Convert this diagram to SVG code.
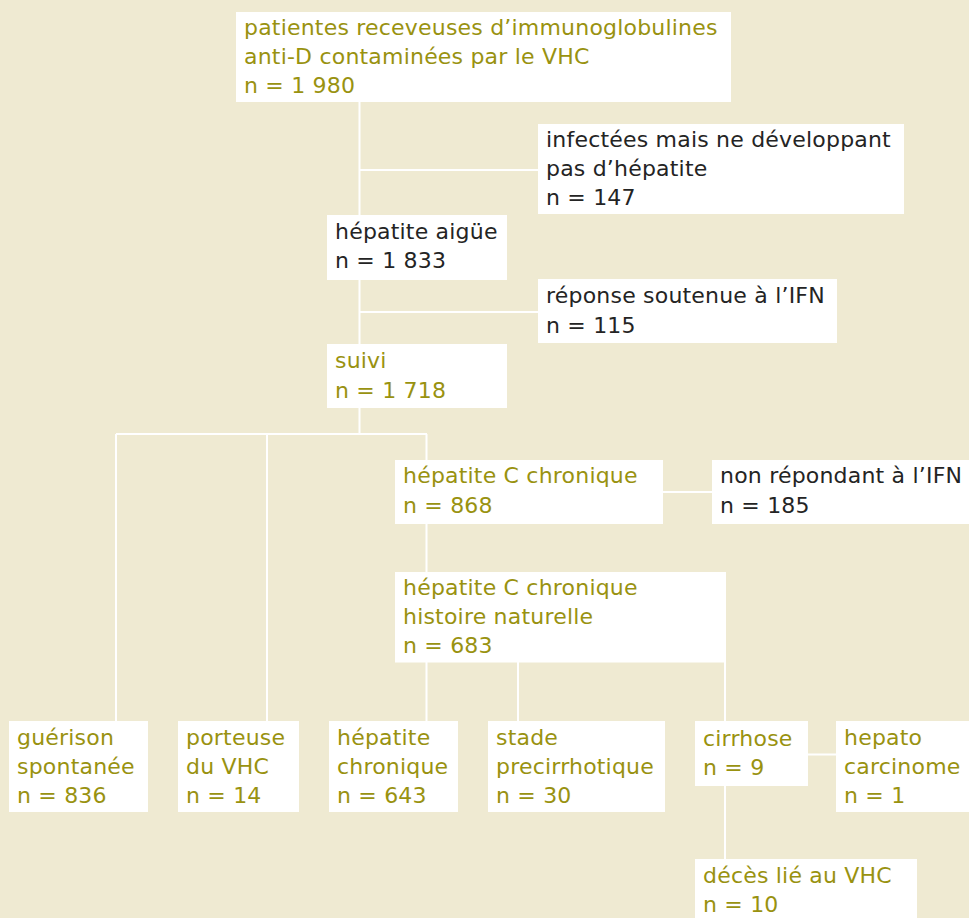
<svg xmlns="http://www.w3.org/2000/svg" width="969" height="918" viewBox="0 0 969 918">
<style>
.bg{fill:#EFEAD2}
.box{fill:#FFFFFF}
text{font-family:"DejaVu Sans","Liberation Sans",sans-serif;font-size:22px;letter-spacing:0.2px}
.o{fill:#999210}
.d{fill:#242424}
.c{stroke:#FFFFFF;stroke-width:2;fill:none}
</style>
<rect class="bg" x="0" y="0" width="969" height="918"/>
<g id="connectors" class="c">
<path d="M359.5,102V215M359.5,170H538M359.5,280V344M359.5,312H538M359.5,408V434M116,434H427M116,434V721M267,434V721M426.5,434V460M663,492H712M426.5,524V572M426.5,662V721M518,662V721M725,662V721M808,754.5H836M725,786V859"/>
</g>
<g id="n-top"><rect class="box" x="236" y="12" width="495" height="90"/>
<text class="o" x="244" y="35">patientes receveuses d’immunoglobulines</text>
<text class="o" x="244" y="64.3">anti-D contaminées par le VHC</text>
<text class="o" x="244" y="93.3">n = 1 980</text></g>
<g id="n-infectees"><rect class="box" x="538" y="124" width="366" height="90"/>
<text class="d" x="546" y="146.5">infectées mais ne développant</text>
<text class="d" x="546" y="175.5">pas d’hépatite</text>
<text class="d" x="546" y="204.5">n = 147</text></g>
<g id="n-aigue"><rect class="box" x="327" y="215" width="180" height="65"/>
<text class="d" x="335" y="238.5">hépatite aigüe</text>
<text class="d" x="335" y="268">n = 1 833</text></g>
<g id="n-reponse"><rect class="box" x="538" y="279" width="299" height="64"/>
<text class="d" x="546" y="303">réponse soutenue à l’IFN</text>
<text class="d" x="546" y="333">n = 115</text></g>
<g id="n-suivi"><rect class="box" x="327" y="344" width="180" height="64"/>
<text class="o" x="335" y="368">suivi</text>
<text class="o" x="335" y="398">n = 1 718</text></g>
<g id="n-hcc"><rect class="box" x="395" y="460" width="268" height="64"/>
<text class="o" x="403" y="483">hépatite C chronique</text>
<text class="o" x="403" y="513">n = 868</text></g>
<g id="n-nonrep"><rect class="box" x="712" y="460" width="257" height="64"/>
<text class="d" x="720" y="483">non répondant à l’IFN</text>
<text class="d" x="720" y="513">n = 185</text></g>
<g id="n-histoire"><rect class="box" x="395" y="572" width="331" height="90.5"/>
<text class="o" x="403" y="595">hépatite C chronique</text>
<text class="o" x="403" y="624">histoire naturelle</text>
<text class="o" x="403" y="653">n = 683</text></g>
<g id="n-guerison"><rect class="box" x="9" y="721" width="139" height="91"/>
<text class="o" x="17" y="745">guérison</text>
<text class="o" x="17" y="774">spontanée</text>
<text class="o" x="17" y="803">n = 836</text></g>
<g id="n-porteuse"><rect class="box" x="178" y="721" width="121" height="91"/>
<text class="o" x="186" y="745">porteuse</text>
<text class="o" x="186" y="774">du VHC</text>
<text class="o" x="186" y="803">n = 14</text></g>
<g id="n-hepchron"><rect class="box" x="329" y="721" width="129" height="91"/>
<text class="o" x="337" y="745">hépatite</text>
<text class="o" x="337" y="774">chronique</text>
<text class="o" x="337" y="803">n = 643</text></g>
<g id="n-stade"><rect class="box" x="488" y="721" width="177" height="91"/>
<text class="o" x="496" y="745">stade</text>
<text class="o" x="496" y="774">precirrhotique</text>
<text class="o" x="496" y="803">n = 30</text></g>
<g id="n-cirrhose"><rect class="box" x="695" y="721" width="113" height="65"/>
<text class="o" x="703" y="746">cirrhose</text>
<text class="o" x="703" y="775">n = 9</text></g>
<g id="n-hepato"><rect class="box" x="836" y="721" width="133" height="91"/>
<text class="o" x="844" y="745">hepato</text>
<text class="o" x="844" y="774">carcinome</text>
<text class="o" x="844" y="803">n = 1</text></g>
<g id="n-deces"><rect class="box" x="695" y="859" width="222" height="59"/>
<text class="o" x="703" y="883">décès lié au VHC</text>
<text class="o" x="703" y="912">n = 10</text></g>
</svg>
